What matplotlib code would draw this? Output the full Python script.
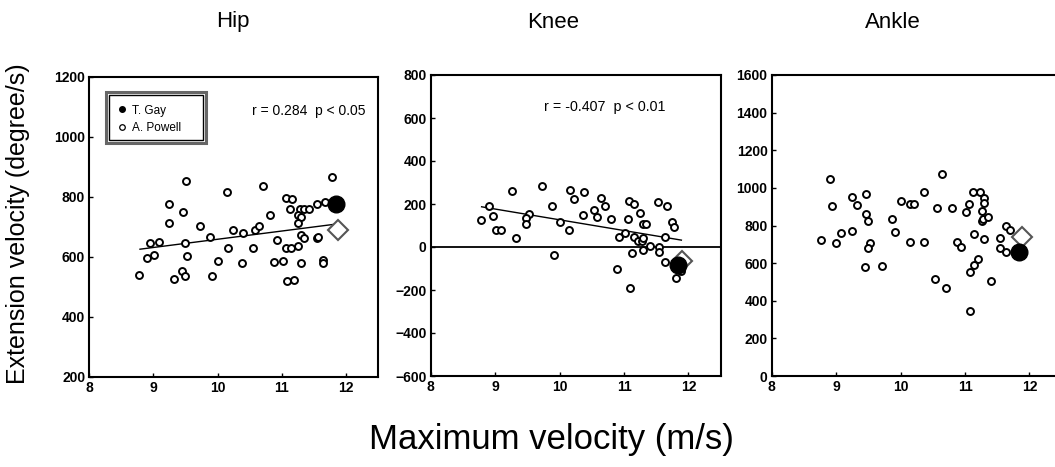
import matplotlib
matplotlib.use("Agg")
import matplotlib.pyplot as plt
from matplotlib import font_manager
from matplotlib.lines import Line2D
from matplotlib.patches import Rectangle

names = {f.name for f in font_manager.fontManager.ttflist}
NARROW = "Liberation Sans Narrow" if "Liberation Sans Narrow" in names else "Liberation Sans"
plt.rcParams["font.family"] = ["Liberation Sans", "DejaVu Sans"]

# ---------------- data ----------------
hip_x = [9.51, 10.15, 10.71, 11.79, 9.24, 9.46, 9.24, 9.72, 10.81, 11.07, 11.16, 11.13,
         11.28, 11.34, 11.42, 11.25, 11.30, 11.25, 11.55, 11.68, 8.94, 9.09, 8.90, 9.01,
         8.78, 9.49, 9.52, 9.32, 9.45, 9.49, 9.88, 9.92, 10.00, 10.16, 10.24, 10.39, 10.38,
         10.55, 10.58, 10.64, 10.93, 10.88, 11.02, 11.07, 11.14, 11.25, 11.30, 11.35, 11.30,
         11.08, 11.19, 11.55, 11.56, 11.64, 11.64]
hip_y = [853, 818, 837, 868, 776, 751, 714, 703, 740, 798, 794, 759,
         759, 759, 759, 740, 734, 714, 776, 784, 646, 649, 598, 607,
         540, 646, 603, 526, 553, 537, 668, 537, 587, 631, 690, 679, 579,
         631, 690, 703, 657, 585, 587, 631, 631, 637, 673, 662, 581,
         520, 523, 662, 668, 590, 580]
hip_fit_x = [8.79, 11.82]
hip_fit_y = [626, 709]

knee_x = [8.91, 8.78, 8.96, 9.01, 9.09, 9.32, 9.26, 9.52, 9.48, 9.48, 9.72, 9.88, 10.01,
          10.15, 9.91, 10.16, 10.23, 10.38, 10.37, 10.54, 10.58, 10.64, 10.71, 10.80,
          11.06, 11.07, 11.16, 11.24, 11.30, 11.34, 10.92, 11.02, 11.15, 11.22, 11.28,
          11.30, 11.30, 11.13, 11.41, 11.55, 11.55, 11.53, 11.66, 11.75, 11.78, 11.64,
          11.63, 10.89, 11.09, 11.81, 11.88, 11.92]
knee_y = [193, 125, 143, 77, 77, 40, 260, 154, 136, 105, 283, 193, 115,
          77, -38, 264, 221, 255, 151, 170, 140, 229, 193, 131,
          131, 216, 202, 159, 105, 105, 47, 63, 47, 27, 27,
          43, -16, -30, 4, -1, -22, 208, 193, 115, 92, 46,
          -71, -100, -193, -143, -110, -60]
knee_fit_x = [8.79, 11.89]
knee_fit_y = [187, 32]

ankle_x = [8.90, 8.94, 9.25, 9.32, 9.47, 9.47, 9.50, 8.77, 9.00, 9.08, 9.25, 9.52, 9.49,
           9.44, 9.71, 9.87, 9.92, 10.00, 10.14, 10.21, 10.37, 10.14, 10.37, 10.65, 10.57,
           10.80, 10.53, 10.70, 10.88, 10.93, 11.01, 11.06, 11.13, 11.23, 11.30, 11.30,
           11.27, 11.26, 11.28, 11.35, 11.14, 11.30, 11.20, 11.14, 11.07, 11.08, 11.40,
           11.55, 11.64, 11.70, 11.55, 11.63]
ankle_y = [1048, 901, 950, 910, 966, 860, 826, 723, 706, 759, 771, 709, 679,
           578, 587, 835, 764, 931, 913, 913, 980, 714, 714, 1073, 892,
           895, 516, 466, 714, 684, 871, 915, 980, 980, 948, 918,
           879, 826, 836, 847, 755, 729, 621, 590, 552, 345, 505,
           736, 800, 777, 679, 661]

gay_x = [11.84, 11.84, 11.84]
gay_y = [777, -86, 661]
powell_x = [11.88, 11.90, 11.89]
powell_y = [690, -67, 741]

titles = ["Hip", "Knee", "Ankle"]
ylims = [(200, 1200), (-600, 800), (0, 1600)]
ystep = [200, 200, 200]
xticks = [8, 9, 10, 11, 12]
stats = ["r = 0.284  p < 0.05", "r = -0.407  p < 0.01", None]
legend_labels = ["T. Gay", "A. Powell"]

# ---------------- figure ----------------
W, H = 1055, 467
fig = plt.figure(figsize=(W / 100, H / 100), dpi=100)
positions = [
    [89.3 / W, 90 / H, 288.7 / W, 300 / H],
    [430.7 / W, 91 / H, 290 / W, 301 / H],
    [771.7 / W, 91 / H, 290 / W, 301 / H],
]
series = [(hip_x, hip_y), (knee_x, knee_y), (ankle_x, ankle_y)]
fits = [(hip_fit_x, hip_fit_y), (knee_fit_x, knee_fit_y), None]

for i, pos in enumerate(positions):
    ax = fig.add_axes(pos)
    ax.set_xlim(8, 12.5)
    lo, hi = ylims[i]
    ax.set_ylim(lo, hi)
    ax.set_xticks(xticks)
    ax.set_yticks(list(range(lo, hi + 1, ystep[i])))
    ax.tick_params(direction="in", length=3, width=1, labelsize=10, pad=3)
    for lab in ax.get_xticklabels() + ax.get_yticklabels():
        lab.set_fontfamily([NARROW, "DejaVu Sans"])
        lab.set_fontweight("bold")
    for sp in ax.spines.values():
        sp.set_linewidth(1.5)
        sp.set_color("black")

    if i == 1:
        ax.axhline(0, color="black", lw=1.3, zorder=1)
    sx, sy = series[i]
    ax.plot(sx, sy, "o", ms=5, mfc="white", mec="black", mew=1.4, zorder=3, ls="none")
    if fits[i] is not None:
        fx, fy = fits[i]
        ax.plot(fx, fy, color="black", lw=1.0, zorder=2)
    ax.plot(powell_x[i], powell_y[i], "D", ms=10, mfc="white", mec="#555555", mew=1.5, zorder=4)
    ax.plot(gay_x[i], gay_y[i], "o", ms=12, color="black", zorder=5)

    if stats[i] is not None:
        if i == 0:
            ax.text(0.955, 0.888, stats[i], transform=ax.transAxes, ha="right", va="center",
                    fontsize=10)
        else:
            ax.text(0.60, 0.895, stats[i], transform=ax.transAxes, ha="center", va="center",
                    fontsize=10.3)

    if i == 0:
        handles = [
            Line2D([], [], marker="o", ls="none", ms=4, color="black"),
            Line2D([], [], marker="o", ls="none", ms=4, mfc="white", mec="black", mew=0.9),
        ]
        # legend content placed inside a hand-drawn double frame
        ax.legend(handles, legend_labels, loc="upper left",
                  bbox_to_anchor=((114 - 89.3) / 288.7, (377 - 101) / 300),
                  borderaxespad=0, fontsize=8.5, handlelength=0.8, handletextpad=0.4,
                  labelspacing=0.5, borderpad=0.3, frameon=False)

# double frame of the legend, in figure pixels
fig.patches.append(Rectangle((106 / W, 1 - 143 / H), 100 / W, 51 / H,
                             transform=fig.transFigure, fill=False,
                             edgecolor="#666666", lw=2.2, zorder=10))
fig.patches.append(Rectangle((109 / W, 1 - 140 / H), 94 / W, 45 / H,
                             transform=fig.transFigure, fill=False,
                             edgecolor="black", lw=1.0, zorder=10))

title_x = [233, 553, 893]
for t, tx in zip(titles, title_x):
    fig.text(tx / W, 1 - 22 / H, t, ha="center", va="center", fontsize=16,
             family=[NARROW, "DejaVu Sans"])

fig.text(18 / W, 1 - 224 / H, "Extension velocity (degree/s)", rotation=90,
         ha="center", va="center", fontsize=18)
fig.text(551 / W, 1 - 440 / H, "Maximum velocity (m/s)", ha="center", va="center",
         fontsize=25)

fig.savefig("out.png", dpi=100)
